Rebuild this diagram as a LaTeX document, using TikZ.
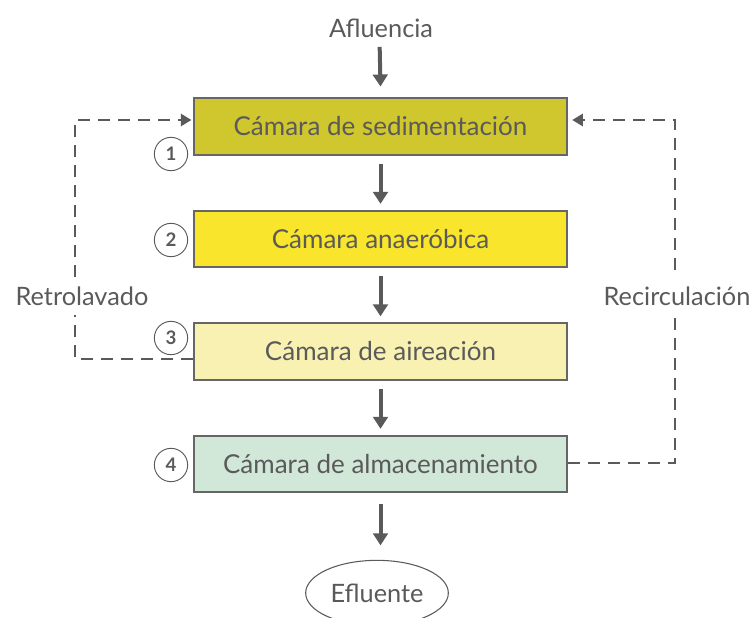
\documentclass[tikz,border=0pt]{standalone}
\usepackage{fontspec}
\setmainfont{Lato}
\usetikzlibrary{arrows.meta,shapes.geometric}
\definecolor{txt}{HTML}{5A5A5A}
\definecolor{edge}{HTML}{666666}
\definecolor{cA}{HTML}{D0C72F}
\definecolor{cB}{HTML}{F9E52B}
\definecolor{cC}{HTML}{F8F1B1}
\definecolor{cD}{HTML}{D1E7D8}
\begin{document}
\begin{tikzpicture}[x=0.75pt,y=-0.75pt,
  chamber/.style={draw=edge,line width=1.5pt,minimum width=280pt,minimum height=42.5pt,inner sep=0pt,text=txt,font=\fontsize{19.5}{22}\selectfont},
  lbl/.style={text=txt,font=\fontsize{19}{22}\selectfont,inner xsep=1pt,inner ysep=7pt},
  num/.style={circle,draw=txt,line width=0.7pt,minimum size=25pt,inner sep=0pt,text=txt,font=\fontsize{14}{16}\selectfont\bfseries},
  flow/.style={draw=txt,line width=3pt,-{Triangle[width=11pt,length=9pt]}},
  back/.style={draw=txt,line width=2.2pt,dash pattern=on 9pt off 6pt,-{Triangle[width=9pt,length=8pt]}}]
\useasboundingbox (0,0) rectangle (756,617);
\node[lbl] (in) at (381,28) {Afluencia};
\node[chamber,fill=cA] (b1) at (380.5,126.5) {Cámara de sedimentación};
\node[chamber,fill=cB] (b2) at (380.5,239) {Cámara anaeróbica};
\node[chamber,fill=cC] (b3) at (380.5,351.5) {Cámara de aireación};
\node[chamber,fill=cD] (b4) at (380.5,464) {Cámara de almacenamiento};
\node[ellipse,draw=txt,line width=0.8pt,minimum width=107pt,minimum height=49pt,text=txt,font=\fontsize{19}{22}\selectfont,inner sep=0pt] (out) at (377,593) {Efluente};
\node[num] (n1) at (171,154) {1};
\node[num] (n2) at (171,240) {2};
\node[num] (n3) at (171,338) {3};
\node[num] (n4) at (171,465) {4};
\coordinate (l1) at (75,359);
\coordinate (l2) at (75,120);
\coordinate (r1) at (675,463);
\coordinate (r2) at (675,120);
\draw[flow] ([xshift=-1pt]in.south) -- ([yshift=8pt]b1.north);
\draw[flow] (b1.south) ++(0,8) -- ++(0,40);
\draw[flow] (b2.south) ++(0,8) -- ++(0,40);
\draw[flow] (b3.south) ++(0,8) -- ++(0,40);
\draw[flow] (b4.south) ++(0,11) -- ++(0,41);
\draw[back] (b3.west |- l1) -- (l1) -- (l2) -- ([xshift=-1pt]b1.west |- l2);
\draw[back] (b4.east |- r1) -- (r1) -- (r2) -- ([xshift=3pt]b1.east |- r2);
\node[lbl,fill=white] (rl) at (82,296) {Retrolavado};
\node[lbl,fill=white] (rc) at (677,296) {Recirculación};
\end{tikzpicture}
\end{document}
